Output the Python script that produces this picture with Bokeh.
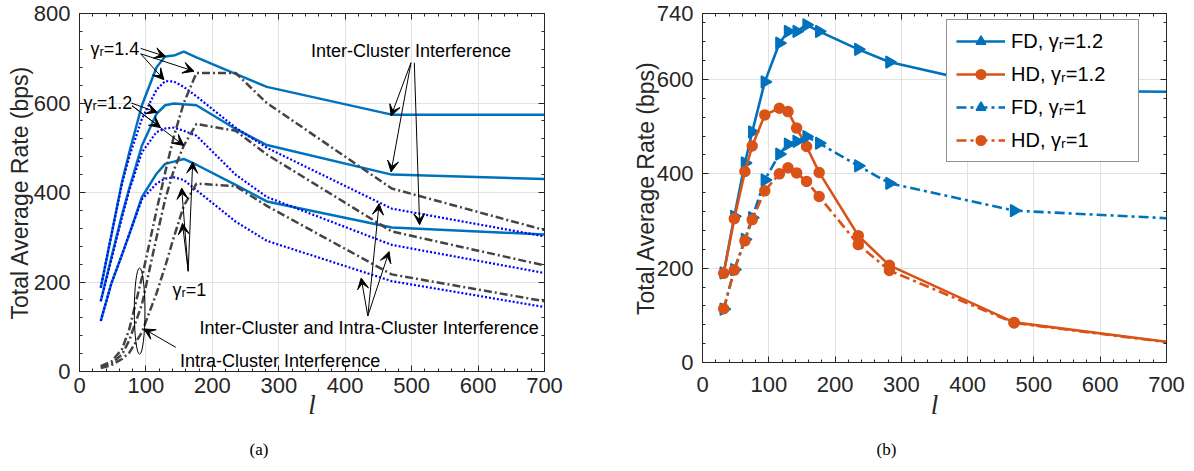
import numpy as np
from bokeh.plotting import figure
from bokeh.layouts import row
from bokeh.models import (FixedTicker, LinearAxis, Range1d, Arrow, VeeHead, Label,
                          Legend, LegendItem, Title, CustomJSTickFormatter, ColumnDataSource)
from bokeh.core.properties import value
from bokeh.embed import file_html
from bokeh.resources import INLINE

# ---------------- data ----------------
l_vals = [32, 48, 64, 75, 94, 116, 129, 142, 157, 176, 235, 282, 470, 700]

# panel (a)
inter_14 = [187, 305, 424, 490, 595, 680, 704, 706, 715, 702, 665, 636, 574, 574]
inter_12 = [157, 255, 350, 410, 505, 576, 595, 599, 597, 595, 542, 506, 440, 430]
inter_10 = [113, 197, 261, 307, 390, 442, 464, 469, 475, 462, 417, 380, 322, 306]
both_14 = [187, 305, 420, 480, 565, 630, 649, 648, 636, 615, 545, 500, 364, 302]
both_12 = [157, 250, 345, 405, 490, 535, 543, 545, 538, 527, 440, 390, 283, 220]
both_10 = [113, 197, 261, 307, 385, 420, 431, 434, 428, 405, 335, 292, 202, 144]
intra_14 = [12, 22, 50, 95, 210, 360, 445, 525, 600, 667, 667, 600, 409, 316]
intra_12 = [10, 18, 38, 70, 150, 300, 385, 450, 505, 553, 538, 485, 313, 237]
intra_10 = [8, 14, 28, 42, 88, 175, 235, 300, 370, 420, 414, 370, 217, 157]

# panel (b)
fd_12 = [190, 310, 423, 489, 595, 677, 702, 702, 716, 702, 664, 637, 577, 574]
hd_12 = [189, 305, 405, 459, 525, 539, 532, 497, 458, 403, 269, 206, 85, 44]
fd_10 = [113, 197, 261, 307, 387, 442, 463, 469, 479, 465, 417, 380, 322, 306]
hd_10 = [114, 196, 258, 303, 364, 400, 413, 402, 384, 352, 250, 195, 84, 43]

legend_labels = ["FD, γᵣ=1.2", "HD, γᵣ=1.2", "FD, γᵣ=1", "HD, γᵣ=1"]

x_ticks = [0, 100, 200, 300, 400, 500, 600, 700]
ya_ticks = [0, 200, 400, 600, 800]
yb_ticks = [0, 200, 400, 600, 740]

# annotations of panel (a)
ann_text = ["γᵣ=1.4", "γᵣ=1.2", "γᵣ=1", "Inter-Cluster Interference",
            "Inter-Cluster and Intra-Cluster Interference", "Intra-Cluster Interference"]
ann_x = [16.6, 6, 140, 499, 436, 302]
ann_y = [720, 599, 182, 717, 97.5, 24]
ann_align = ["left", "left", "left", "center", "center", "center"]

arr_x0 = [92, 92, 92, 78, 79, 79, 163.6, 163.6, 163.6, 499, 499, 504, 434, 434, 434, 145]
arr_y0 = [722, 710, 710, 600, 594, 594, 224, 224, 224, 690, 690, 690, 124, 124, 124, 54]
arr_x1 = [129.7, 172.4, 127.1, 117, 122, 157, 170.4, 153.8, 155, 469, 469, 512, 451, 466, 424, 97]
arr_y1 = [704, 671, 652, 579, 545, 505, 468, 410, 331, 571, 446, 328, 375, 268, 209, 95]

# ---------------- style ----------------
FONT = "Liberation Sans"
AX = "#262626"
GRID = "#E2E2E2"
BLUE = "#0072BD"
ORANGE = "#D95319"
PBLUE = "#0000FF"
GRAY = "#444444"


def style_axes(p, yticks, ymax_minor, x_standoff, xlabel_standoff, ylabel_standoff):
    xt = FixedTicker(ticks=x_ticks, minor_ticks=list(range(0, 701, 20)))
    yt = FixedTicker(ticks=yticks, minor_ticks=list(range(0, ymax_minor + 1, 40)))
    p.xaxis.ticker = xt
    p.yaxis.ticker = yt
    p.xgrid.ticker = xt
    p.ygrid.ticker = yt
    for g in (p.xgrid, p.ygrid):
        g.grid_line_color = GRID
        g.grid_line_width = 1
    p.outline_line_color = AX
    p.outline_line_width = 1
    for ax in (p.xaxis[0], p.yaxis[0]):
        ax.axis_line_color = AX
        ax.major_tick_in = 6
        ax.major_tick_out = 0
        ax.minor_tick_in = 3
        ax.minor_tick_out = 0
        ax.major_tick_line_color = AX
        ax.minor_tick_line_color = AX
        ax.major_label_text_font = FONT
        ax.major_label_text_font_size = "22px"
        ax.major_label_text_color = AX
    p.xaxis.major_label_standoff = x_standoff
    p.yaxis.major_label_standoff = 9
    p.xaxis.axis_label = "l"
    p.xaxis.axis_label_text_font = "Liberation Serif"
    p.xaxis.axis_label_text_font_style = "italic"
    p.xaxis.axis_label_text_font_size = "27px"
    p.xaxis.axis_label_text_color = AX
    p.xaxis.axis_label_standoff = xlabel_standoff
    p.yaxis.axis_label = "Total Average Rate (bps)"
    p.yaxis.axis_label_text_font = FONT
    p.yaxis.axis_label_text_font_style = "normal"
    p.yaxis.axis_label_text_font_size = "23px"
    p.yaxis.axis_label_text_color = AX
    p.yaxis.axis_label_standoff = ylabel_standoff
    # box ticks on top and right
    blank = CustomJSTickFormatter(code="return ''")
    for loc, tk in (("above", xt), ("right", yt)):
        a = LinearAxis(ticker=tk, formatter=blank, axis_line_color=AX,
                       major_tick_in=6, major_tick_out=0, minor_tick_in=3, minor_tick_out=0,
                       major_tick_line_color=AX, minor_tick_line_color=AX,
                       major_label_text_font_size="1px", major_label_standoff=0)
        p.add_layout(a, loc)


# ---------------- panel (a) ----------------
p1 = figure(frame_width=465, frame_height=358, x_range=Range1d(0, 700), y_range=Range1d(0, 800),
            output_backend="svg", toolbar_location=None,
            min_border_left=79, min_border_right=20, min_border_top=13, min_border_bottom=95)
style_axes(p1, ya_ticks, 800, 6, -6, -2)

for ys in (inter_14, inter_12, inter_10):
    p1.line(l_vals, ys, line_color=BLUE, line_width=2.5)
for ys in (both_14, both_12, both_10):
    p1.line(l_vals, ys, line_color=PBLUE, line_width=2.2, line_dash="2 2")
for ys in (intra_14, intra_12, intra_10):
    p1.line(l_vals, ys, line_color=GRAY, line_width=2.5, line_dash="8 3 2 3")

p1.ellipse(x=[90.5], y=[135], width=16, height=193, fill_color=None,
           line_color="black", line_width=1)

arr_src = ColumnDataSource(dict(x0=arr_x0, y0=arr_y0, x1=arr_x1, y1=arr_y1))
p1.add_layout(Arrow(source=arr_src, x_start="x0", y_start="y0", x_end="x1", y_end="y1",
                    line_color="black", line_width=1,
                    end=VeeHead(size=11, fill_color="black", line_color="black", line_width=1)))

for t, x, y, al in zip(ann_text, ann_x, ann_y, ann_align):
    p1.add_layout(Label(x=x, y=y, text=t, text_align=al, text_baseline="middle",
                        text_font=FONT, text_font_size="18px", text_color="black"))

p1.add_layout(Title(text="(a)", align="left", offset=170, standoff=30,
                    text_font="Liberation Serif", text_font_size="17px",
                    text_font_style="normal", text_color="black"), "below")

# ---------------- panel (b) ----------------
p2 = figure(frame_width=464, frame_height=349, x_range=Range1d(0, 700), y_range=Range1d(0, 740),
            output_backend="svg", toolbar_location=None,
            min_border_left=138, min_border_right=19, min_border_top=13, min_border_bottom=104)
style_axes(p2, yb_ticks, 740, 14, -5, -5)

series = [(fd_12, BLUE, "solid", "triangle"), (hd_12, ORANGE, "solid", "circle"),
          (fd_10, BLUE, "10 4 3 4", "triangle"), (hd_10, ORANGE, "10 4 3 4", "circle")]
items = []
for (ys, c, dash, mk), lab in zip(series, legend_labels):
    ln = p2.line(l_vals, ys, line_color=c, line_width=2.6, line_dash=dash)
    if mk == "triangle":
        sc = p2.scatter(l_vals[:-1], ys[:-1], marker="triangle", angle=-np.pi / 2, size=12,
                        fill_color=c, line_color=c, line_width=1.5)
    else:
        sc = p2.scatter(l_vals[:-1], ys[:-1], marker="circle", size=10,
                        fill_color=c, line_color=c, line_width=1.5)
    items.append(LegendItem(label=lab, renderers=[ln, sc]))

leg = Legend(items=items, location=(244, 200), label_text_font=FONT, label_text_font_size="20px",
             label_text_color="black", glyph_width=49, glyph_height=24, label_height=24,
             spacing=9, padding=9, label_standoff=6, label_width=118, margin=0,
             border_line_color=AX, border_line_width=1, background_fill_alpha=1.0)
p2.add_layout(leg)

p2.add_layout(Title(text="(b)", align="left", offset=174, standoff=30,
                    text_font="Liberation Serif", text_font_size="17px",
                    text_font_style="normal", text_color="black"), "below")

layout = row(p1, p2)
open("out.html", "w").write(file_html(layout, INLINE))
